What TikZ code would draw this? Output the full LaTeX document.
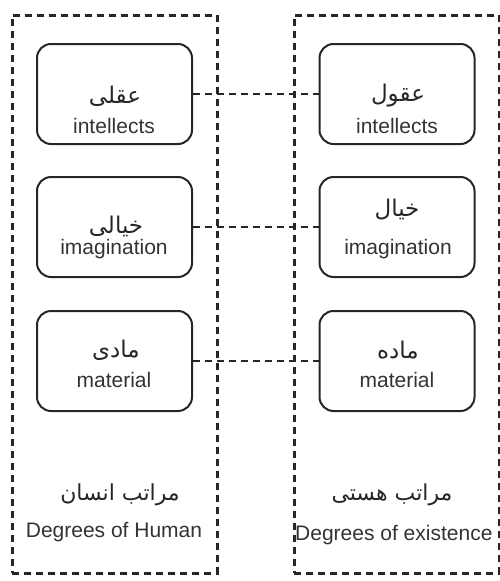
\documentclass[tikz,border=0pt]{standalone}
\usepackage{fontspec}
\setmainfont{Liberation Sans}
\newfontfamily\arabicfont[Script=Arabic]{DejaVu Sans}
\TeXXeTstate=1
\begin{document}
\begin{tikzpicture}[x=1pt,y=-1pt,
  outerbox/.style={draw=black!85, line width=2.5pt, dash pattern=on 7pt off 5pt, inner sep=0pt, anchor=north west},
  conceptbox/.style={draw=black!85, line width=2pt, rounded corners=14pt, minimum width=155pt, minimum height=100pt, inner sep=0pt},
  link/.style={draw=black!85, line width=2pt, dash pattern=on 7pt off 5pt},
  en/.style={font=\fontsize{21}{24}\selectfont, text=black!80, inner sep=0pt},
  ar/.style={font=\arabicfont\fontsize{23}{26}\selectfont, text=black!85, inner sep=0pt},
  arbig/.style={font=\arabicfont\fontsize{22}{26}\selectfont, text=black!85, inner sep=0pt}]
\useasboundingbox (0,0) rectangle (499,581);
\node[outerbox, minimum width=205pt, minimum height=558pt] (human) at (11,14) {};
\node[outerbox, minimum width=205pt, minimum height=558pt] (exist) at (293,14) {};
% left boxes
\node[conceptbox] (l1) at (114.5,94) {};
\node[conceptbox] (l2) at (114.5,227) {};
\node[conceptbox] (l3) at (114.5,361) {};
% right boxes
\node[conceptbox] (r1) at (397,94) {};
\node[conceptbox] (r2) at (397,227) {};
\node[conceptbox] (r3) at (397,361) {};
% connectors
\draw[link] (l1.east) -- (r1.west);
\draw[link] (l2.east) -- (r2.west);
\draw[link] (l3.east) -- (r3.west);
% texts left
\node[ar] (tl1a) at (115,96) {\beginR عقلی\endR};
\node[en] (tl1e) at (114,126) {intellects};
\node[ar] (tl2a) at (116,226) {\beginR خیالی\endR};
\node[en] (tl2e) at (114,249) {imagination};
\node[ar] (tl3a) at (116,350) {\beginR مادی\endR};
\node[en] (tl3e) at (114,380) {material};
% texts right
\node[ar] (tr1a) at (398,96) {\beginR عقول\endR};
\node[en] (tr1e) at (397,126) {intellects};
\node[ar] (tr2a) at (397,210) {\beginR خیال\endR};
\node[en] (tr2e) at (398,249) {imagination};
\node[ar] (tr3a) at (398,350) {\beginR ماده\endR};
\node[en] (tr3e) at (397,380) {material};
% bottom labels
\node[arbig] (hla) at (120,495) {\beginR مراتب انسان\endR};
\node[en] (hle) at (114,532) {Degrees of Human};
\node[arbig] (ela) at (392,495) {\beginR مراتب هستی\endR};
\node[en, anchor=west] (ele) at (295,535) {Degrees of existence};
\end{tikzpicture}
\end{document}
